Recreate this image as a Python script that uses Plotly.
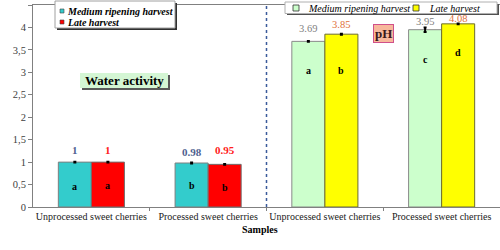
import plotly.graph_objects as go

# ---------------- data ----------------
categories = ["Unprocessed sweet cherries", "Processed sweet cherries",
              "Unprocessed sweet cherries", "Processed sweet cherries"]
wa_medium = [1.00, 0.98]          # water activity, medium ripening harvest
wa_late = [1.00, 0.95]            # water activity, late harvest
wa_medium_err = [0.01, 0.01]
wa_late_err = [0.01, 0.01]
wa_medium_labels = ["1", "0.98"]
wa_late_labels = ["1", "0.95"]
wa_medium_letters = ["a", "b"]
wa_late_letters = ["a", "b"]

ph_medium = [3.69, 3.95]          # pH, medium ripening harvest
ph_late = [3.85, 4.08]            # pH, late harvest
ph_medium_err = [0.01, 0.05]
ph_late_err = [0.01, 0.01]
ph_medium_labels = ["3.69", "3.95"]
ph_late_labels = ["3.85", "4.08"]
ph_medium_letters = ["a", "c"]
ph_late_letters = ["b", "d"]

y_tickvals = [0, 0.5, 1, 1.5, 2, 2.5, 3, 3.5, 4, 4.5]
y_ticktext = ["0", "0,5", "1", "1,5", "2", "2,5", "3", "3,5", "4", "4,5"]

# ---------------- layout constants ----------------
W, H = 500, 250
ML, MR, MT, MB = 33, 0, 5, 43
PW, PH = W - ML - MR, H - MT - MB
SERIF = "Liberation Serif"
BW = 0.283  # bar width in category units


def px(xp):
    return (xp - ML) / PW


def py(yp):
    return (MT + PH - yp) / PH


wa_x = [0, 1]
ph_x = [2, 3]

fig = go.Figure()


def add_bars(xs, ys, errs, color, line, offset):
    fig.add_trace(go.Bar(
        x=xs, y=ys, width=BW, offset=offset,
        marker=dict(color=color, line=dict(color=line, width=1)),
        error_y=dict(type="data", array=errs, color="black", thickness=2, width=1.5),
        showlegend=False, hoverinfo="skip"))


add_bars(wa_x, wa_medium, wa_medium_err, "#33CCCC", "#7F7F7F", -BW)
add_bars(wa_x, wa_late, wa_late_err, "#FF0000", "#6F6F6F", 0)
add_bars(ph_x, ph_medium, ph_medium_err, "#CCFFCC", "#8A8A8A", -BW)
add_bars(ph_x, ph_late, ph_late_err, "#FFFF00", "#6B6B30", 0)

ann = []

# value labels
def add_values(xs, ys, labels, color, dx, shifts, bold, size):
    for x, y, t, s in zip(xs, ys, labels, shifts):
        ann.append(dict(x=x + dx, y=y, xref="x", yref="y", text=f"<b>{t}</b>" if bold else t,
                        showarrow=False, yshift=s, xanchor="center", yanchor="middle",
                        font=dict(family=SERIF, size=size, color=color)))


add_values(wa_x, wa_medium, wa_medium_labels, "#4F5F8F", -BW / 2, [12, 11], True, 11)
add_values(wa_x, wa_late, wa_late_labels, "#FF2020", BW / 2, [12, 14], True, 11)
add_values(ph_x, ph_medium, ph_medium_labels, "#808080", -BW / 2, [13, 8], False, 10.5)
add_values(ph_x, ph_late, ph_late_labels, "#E0703A", BW / 2, [10, 5], False, 10.5)

# significance letters
def add_letters(xs, letters, ys, dx):
    for x, t, y in zip(xs, letters, ys):
        ann.append(dict(x=x + dx, y=y, xref="x", yref="y", text=f"<b>{t}</b>",
                        showarrow=False, xanchor="center", yanchor="middle",
                        font=dict(family=SERIF, size=10, color="black")))


add_letters(wa_x, wa_medium_letters, [0.45, 0.47], -BW / 2)
add_letters(wa_x, wa_late_letters, [0.47, 0.43], BW / 2)
add_letters(ph_x, ph_medium_letters, [3.05, 3.29], -BW / 2)
add_letters(ph_x, ph_late_letters, [3.05, 3.45], BW / 2)


def label(xp, yp, text, size, color="black", xanchor="center", **kw):
    ann.append(dict(x=px(xp), y=py(yp), xref="paper", yref="paper", text=text,
                    showarrow=False, xanchor=xanchor, yanchor="middle",
                    font=dict(family=SERIF, size=size, color=color), **kw))


shapes = []
# dashed separator
shapes.append(dict(type="line", xref="x", yref="paper", x0=1.5, x1=1.5, y0=0, y1=1,
                   line=dict(color="#3A5A9A", width=1.5, dash="dot")))


def rect(x0, y0, x1, y1, fill, line=None, lw=0):
    shapes.append(dict(type="rect", xref="paper", yref="paper",
                       x0=px(x0), x1=px(x1), y0=py(y1), y1=py(y0),
                       fillcolor=fill, line=dict(color=line or fill, width=lw), layer="above"))


# Water activity title box (shadow + box)
rect(82, 75, 170, 90, "#5A5A5A")
rect(80, 73, 168, 88, "#D4F6D4")
label(124, 80.5, "<b>Water activity</b>", 13)

# pH box
label(383, 33, "<b>pH</b>", 13, "#3A1A1A", bgcolor="#F7B89C",
      bordercolor="#D0508A", borderwidth=1, borderpad=1)

# Samples axis title
label(260, 229, "<b>Samples</b>", 10)

# legend 1 (water activity)
rect(57, 3, 177, 30, "#303030")
rect(55, 1, 175, 28, "white", "#A0A0A0", 1)
rect(60, 9, 64, 13, "#33CCCC", "#404040", 0.6)
rect(60, 20, 64, 24, "#FF0000", "#404040", 0.6)
label(65, 11, "<b><i>Medium ripening harvest</i></b>", 10, xanchor="left")
label(65, 22.5, "<b><i>Late harvest</i></b>", 10, xanchor="left")

# legend 2 (pH)
rect(287, 4, 499, 15, "#505050")
rect(285, 2, 497, 13.5, "white", "#B0B0B0", 1)
rect(293, 5, 299, 11, "#CCFFCC", "#303030", 0.8)
rect(413, 5, 419, 11, "#FFFF00", "#303030", 0.8)
label(306, 8.5, "<i>Medium ripening harvest</i>", 10, xanchor="left")
label(427, 8.5, "<i>Late harvest</i>", 10, xanchor="left")

fig.update_layout(
    width=W, height=H, margin=dict(l=ML, r=MR, t=MT, b=MB, pad=0),
    paper_bgcolor="white", plot_bgcolor="white",
    font=dict(family=SERIF),
    annotations=ann, shapes=shapes, showlegend=False,
    xaxis=dict(range=[-0.5, 3.5], tickmode="array", tickvals=[0, 1, 2, 3], ticktext=categories,
               ticks="", showgrid=False, zeroline=False, showline=True, linecolor="#808080",
               linewidth=1, mirror=True,
               minor=dict(tickmode="array", tickvals=[0.5, 1.5, 2.5], ticks="outside",
                          ticklen=3, tickcolor="#808080"),
               tickfont=dict(family=SERIF, size=10, color="#202020")),
    yaxis=dict(range=[0, 4.5], tickmode="array", tickvals=y_tickvals, ticktext=y_ticktext,
               ticks="outside", ticklen=4, tickcolor="#808080", showgrid=False, zeroline=False,
               showline=True, linecolor="#808080", linewidth=1,
               tickfont=dict(family=SERIF, size=10.5, color="#404040")),
)

fig.write_html("out.html", config={"displayModeBar": False},
               post_script="document.body.style.margin='0';document.body.style.overflow='hidden';")
